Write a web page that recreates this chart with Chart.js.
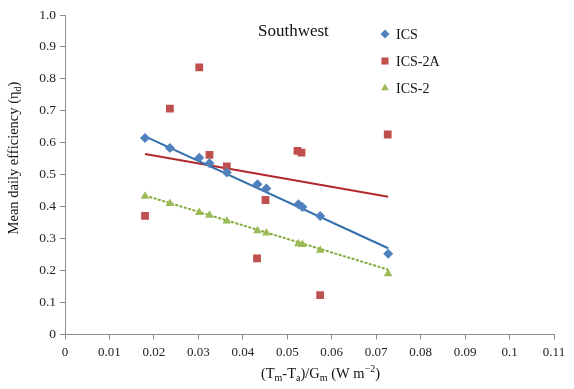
<!DOCTYPE html>
<html>
<head>
<meta charset="utf-8">
<script src="https://cdn.jsdelivr.net/npm/chart.js@4.4.0/dist/chart.umd.min.js"></script>
<style>
  body { margin: 0; background: #fff; }
  #wrap { width: 574px; height: 389px; position: relative; }
</style>
</head>
<body>
<div id="wrap"><canvas id="chart"></canvas></div>
<script>
// values
const icsX = [0.018, 0.0236, 0.0302, 0.0325, 0.0364, 0.0433, 0.0453, 0.0525, 0.0534, 0.0574, 0.0727];
const icsY = [0.615, 0.584, 0.553, 0.536, 0.507, 0.470, 0.457, 0.408, 0.399, 0.371, 0.253];

const ics2aX = [0.018, 0.0236, 0.0302, 0.0325, 0.0364, 0.0432, 0.0451, 0.0523, 0.0532, 0.0574, 0.0726];
const ics2aY = [0.371, 0.707, 0.836, 0.562, 0.526, 0.238, 0.421, 0.575, 0.569, 0.123, 0.626];

const ics2X = [0.018, 0.0236, 0.0302, 0.0325, 0.0364, 0.0433, 0.0453, 0.0525, 0.0534, 0.0574, 0.0727];
const ics2Y = [0.433, 0.410, 0.382, 0.373, 0.355, 0.325, 0.318, 0.284, 0.282, 0.264, 0.190];

// trend line end points (start, end)
const trendX = [0.018, 0.0727];
const trendIcs = [0.62, 0.27];
const trendIcs2a = [0.565, 0.431];
const trendIcs2 = [0.435, 0.203];

const xTickLabels = ['0', '0.01', '0.02', '0.03', '0.04', '0.05', '0.06', '0.07', '0.08', '0.09', '0.1', '0.11'];
const yTickLabels = ['0', '0.1', '0.2', '0.3', '0.4', '0.5', '0.6', '0.7', '0.8', '0.9', '1.0'];

const seriesNames = ['ICS', 'ICS-2A', 'ICS-2'];
const panelTitle = 'Southwest';

const pts = (xs, ys) => xs.map((x, i) => ({ x: x, y: ys[i] }));

const SERIF = '"Liberation Serif", "Times New Roman", serif';
const axisGray = '#8c8c8c';

// draws a line of text made of runs, some as sub/superscript
function drawRuns(ctx, runs, cx, cy, size) {
    const small = Math.round(size * 0.7);
    let total = 0;
    runs.forEach(r => {
        ctx.font = (r[1] ? small : size) + 'px ' + SERIF;
        total += ctx.measureText(r[0]).width;
    });
    let x = cx - total / 2;
    ctx.textAlign = 'left';
    ctx.textBaseline = 'middle';
    runs.forEach(r => {
        ctx.font = (r[1] ? small : size) + 'px ' + SERIF;
        let dy = 0;
        if (r[1] === 'sub') dy = size * 0.3;
        if (r[1] === 'sup') dy = -size * 0.3;
        ctx.fillText(r[0], x, cy + dy);
        x += ctx.measureText(r[0]).width;
    });
}

const textPlugin = {
    id: 'texts',
    afterDraw(chart) {
        const ctx = chart.ctx;
        ctx.save();
        ctx.fillStyle = '#111';

        // panel label
        ctx.font = '17px ' + SERIF;
        ctx.textAlign = 'left';
        ctx.textBaseline = 'middle';
        ctx.fillText(panelTitle, 258, 32);

        // legend
        const lx = 385, ly = [34, 61, 88];
        for (let i = 0; i < 3; i++) {
            const ds = chart.data.datasets[i];
            ctx.fillStyle = ds.backgroundColor;
            ctx.strokeStyle = ds.borderColor;
            ctx.lineWidth = 0;
            if (Chart.helpers && Chart.helpers.drawPoint) {
                Chart.helpers.drawPoint(ctx, { pointStyle: ds.pointStyle, radius: ds.pointRadius - 0.5, rotation: 0, borderWidth: 0 }, lx, ly[i]);
            }
            ctx.fillStyle = '#111';
            ctx.font = '14px ' + SERIF;
            ctx.textAlign = 'left';
            ctx.textBaseline = 'middle';
            ctx.fillText(ds.label, lx + 11, ly[i] + 1);
        }

        // x axis title
        ctx.fillStyle = '#111';
        drawRuns(ctx, [['(T', ''], ['m', 'sub'], ['-T', ''], ['a', 'sub'], [')/G', ''], ['m', 'sub'], [' (W m', ''], ['\u22122', 'sup'], [')', '']], 320.5, 374, 14.5);

        // y axis title
        ctx.translate(14, 158);
        ctx.rotate(-Math.PI / 2);
        drawRuns(ctx, [['Mean daily efficiency (\u03b7', ''], ['d', 'sub'], [')', '']], 0, 0, 14.5);

        ctx.restore();
    }
};

new Chart(document.getElementById('chart'), {
    type: 'scatter',
    data: {
        datasets: [
            {
                label: seriesNames[0],
                data: pts(icsX, icsY),
                pointStyle: 'rectRot',
                pointRadius: 5,
                backgroundColor: '#4f81bd',
                borderColor: '#4f81bd',
                borderWidth: 0
            },
            {
                label: seriesNames[1],
                data: pts(ics2aX, ics2aY),
                pointStyle: 'rect',
                pointRadius: 5.5,
                backgroundColor: '#c0504d',
                borderColor: '#c0504d',
                borderWidth: 0
            },
            {
                label: seriesNames[2],
                data: pts(ics2X, ics2Y),
                pointStyle: 'triangle',
                pointRadius: 5,
                backgroundColor: '#9bbb59',
                borderColor: '#9bbb59',
                borderWidth: 0
            },
            {
                label: 'trend ICS',
                data: pts(trendX, trendIcs),
                showLine: true,
                pointRadius: 0,
                borderColor: '#3470ad',
                borderWidth: 2
            },
            {
                label: 'trend ICS-2A',
                data: pts(trendX, trendIcs2a),
                showLine: true,
                pointRadius: 0,
                borderColor: '#b1282c',
                borderWidth: 2
            },
            {
                label: 'trend ICS-2',
                data: pts(trendX, trendIcs2),
                showLine: true,
                pointRadius: 0,
                borderColor: '#86ab3c',
                borderWidth: 2,
                borderDash: [3, 1.5]
            }
        ]
    },
    options: {
        responsive: true,
        maintainAspectRatio: false,
        animation: false,
        layout: {
            padding: { top: 15, right: 20, left: 0, bottom: 0 }
        },
        plugins: {
            legend: { display: false },
            tooltip: { enabled: false }
        },
        scales: {
            x: {
                type: 'linear',
                min: 0,
                max: 0.11,
                afterFit: (s) => { s.height = 54.5; },
                border: { color: axisGray, width: 1 },
                grid: { drawOnChartArea: false, drawTicks: true, tickLength: 5, color: axisGray },
                ticks: {
                    stepSize: 0.01,
                    maxRotation: 0,
                    autoSkip: false,
                    padding: 5,
                    color: '#222',
                    font: { family: SERIF, size: 13 },
                    callback: (v, i) => xTickLabels[i]
                }
            },
            y: {
                min: 0,
                max: 1,
                afterFit: (s) => { s.width = 65; },
                border: { color: axisGray, width: 1 },
                grid: { drawOnChartArea: false, drawTicks: true, tickLength: 5, color: axisGray },
                ticks: {
                    stepSize: 0.1,
                    autoSkip: false,
                    padding: 4,
                    color: '#222',
                    font: { family: SERIF, size: 13.5 },
                    callback: (v, i) => yTickLabels[i]
                }
            }
        }
    },
    plugins: [textPlugin]
});
</script>
</body>
</html>
